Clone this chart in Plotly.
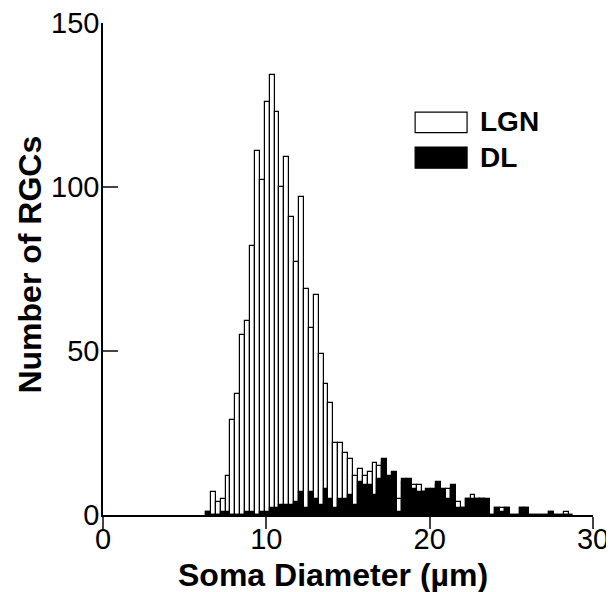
import plotly.graph_objects as go

# Histogram bins (left edge, µm), width 0.3 µm
bin_left = [6.3, 6.6, 6.9, 7.2, 7.5, 7.8, 8.1, 8.4, 8.7, 9.0,
            9.3, 9.6, 9.9, 10.2, 10.5, 10.8, 11.1, 11.4, 11.7, 12.0,
            12.3, 12.6, 12.9, 13.2, 13.5, 13.8, 14.1, 14.4, 14.7, 15.0,
            15.3, 15.6, 15.9, 16.2, 16.5, 16.8, 17.1, 17.4, 17.7, 18.0,
            18.3, 18.6, 18.9, 19.2, 19.5, 19.8, 20.1, 20.4, 20.7, 21.0,
            21.3, 21.6, 21.9, 22.2, 22.5, 22.8, 23.1, 23.4, 23.7, 24.0,
            24.3, 24.6, 24.9, 25.2, 25.5, 25.8, 26.1, 26.4, 26.7, 27.0,
            27.3, 27.6, 27.9, 28.2, 28.5]
bin_width = 0.3

lgn_counts = [1, 7, 4, 5, 12, 29, 37, 55, 59, 82,
              111, 102, 126, 134, 123, 100, 109, 91, 77, 97,
              69, 57, 67, 49, 40, 34, 22, 22, 19, 17,
              12, 14, 12, 13, 16, 15, 16, 11, 12, 5,
              10, 10, 9, 9, 7, 7, 7, 9, 7, 8,
              8, 4, 2, 5, 6, 5, 5, 4, 0, 2,
              2, 2, 0, 0, 2, 2, 0, 0, 0, 0,
              1, 0, 0, 1, 0]

dl_counts = [1, 0, 0, 1, 1, 0, 0, 0, 1, 1,
             0, 1, 1, 2, 2, 3, 3, 3, 4, 7,
             2, 7, 5, 3, 8, 5, 2, 5, 5, 6,
             3, 10, 9, 9, 6, 11, 17, 12, 13, 1,
             11, 11, 8, 7, 7, 8, 8, 10, 8, 5,
             9, 2, 2, 5, 5, 5, 5, 5, 0, 2,
             1, 2, 0, 0, 2, 2, 0, 0, 0, 0,
             1, 0, 0, 0, 0]

x_ticks = [0, 10, 20, 30]
y_ticks = [0, 50, 100, 150]
x_title = "Soma Diameter (µm)"
y_title = "Number of RGCs"
series_names = ["LGN", "DL"]

FONT = "Liberation Sans, Arial, sans-serif"
centers = [round(b + bin_width / 2, 3) for b in bin_left]

fig = go.Figure()
fig.add_trace(go.Bar(
    x=centers, y=lgn_counts, width=bin_width, name=series_names[0],
    marker=dict(color="white", line=dict(color="black", width=1.2)),
    showlegend=False,
))
fig.add_trace(go.Bar(
    x=centers, y=dl_counts, width=bin_width, name=series_names[1],
    marker=dict(color="black", line=dict(color="black", width=1.2)),
    showlegend=False,
))

# page has an 8px body margin: figure is sized/offset to compensate
fig.update_layout(
    width=606, height=584,
    margin=dict(l=95, r=21, t=15, b=77, autoexpand=False),
    paper_bgcolor="white", plot_bgcolor="white",
    barmode="overlay", bargap=0,
    font=dict(family=FONT, color="black"),
)
fig.update_xaxes(
    range=[0, 30], tickvals=x_ticks, ticks="outside", ticklen=12, tickwidth=1.5,
    showline=True, linecolor="black", linewidth=1.5, showgrid=False, zeroline=False,
    tickfont=dict(size=29, family=FONT, color="black"), ticklabelstandoff=-15,
    automargin=False, ticklabeloverflow="allow",
)
fig.update_yaxes(
    range=[0, 150], tickvals=y_ticks, ticks="inside", ticklen=15, tickwidth=1.5,
    showline=True, linecolor="black", linewidth=1.5, showgrid=False, zeroline=False,
    tickfont=dict(size=29, family=FONT, color="black"), ticklabelstandoff=-4,
    automargin=False, ticklabeloverflow="allow",
)

# axis titles
fig.add_annotation(text="<b>%s</b>" % x_title, xref="paper", yref="paper",
                   x=0.47, y=-0.122, xanchor="center", yanchor="middle",
                   showarrow=False, font=dict(size=32, family=FONT, color="black"))
fig.add_annotation(text="<b>%s</b>" % y_title, xref="paper", yref="paper",
                   x=-0.148, y=0.51, xanchor="center", yanchor="middle", textangle=-90,
                   showarrow=False, font=dict(size=32, family=FONT, color="black"))

# legend keys
fig.add_shape(type="rect", xref="paper", yref="paper", x0=0.637, x1=0.743, y0=0.777, y1=0.819,
              fillcolor="white", line=dict(color="black", width=1.2))
fig.add_shape(type="rect", xref="paper", yref="paper", x0=0.637, x1=0.743, y0=0.705, y1=0.748,
              fillcolor="black", line=dict(color="black", width=1.2))
fig.add_annotation(text="<b>%s</b>" % series_names[0], xref="paper", yref="paper",
                   x=0.766, y=0.799, xanchor="left", yanchor="middle", showarrow=False,
                   font=dict(size=28, family=FONT, color="black"))
fig.add_annotation(text="<b>%s</b>" % series_names[1], xref="paper", yref="paper",
                   x=0.766, y=0.727, xanchor="left", yanchor="middle", showarrow=False,
                   font=dict(size=28, family=FONT, color="black"))

fig.write_html("out.html")
